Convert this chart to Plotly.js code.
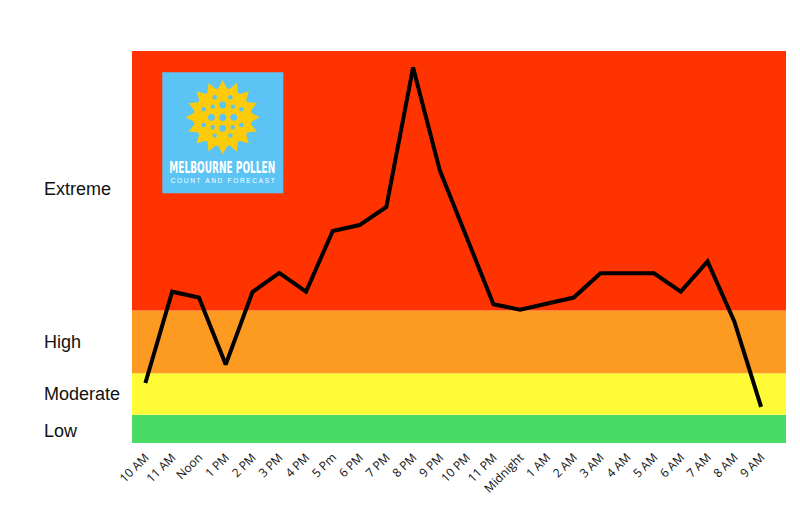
<!DOCTYPE html>
<html>
<head>
<meta charset="utf-8">
<script src="https://cdn.plot.ly/plotly-3.0.1.min.js"></script>
<style>html,body{margin:0;padding:0;background:#fff;}#chart{width:800px;height:505px;}</style>
</head>
<body>
<div id="chart"></div>
<script>
// ---- data ----
const hours = ["10 AM","11 AM","Noon","1 PM","2 PM","3 PM","4 PM","5 Pm","6 PM","7 PM","8 PM","9 PM",
               "10 PM","11 PM","Midnight","1 AM","2 AM","3 AM","4 AM","5 AM","6 AM","7 AM","8 AM","9 AM"];
const pollenIndex = [15.3,38.6,37.1,20.0,38.5,43.4,38.6,54.1,55.6,60.2,95.8,69.5,
                     52.5,35.4,34.0,35.5,37.1,43.3,43.3,43.3,38.6,46.3,31.0,9.2];
const levelNames = ["Low","Moderate","High","Extreme"];
const levelBounds = [0, 7.2, 17.8, 33.8, 100];
const levelColors = ["#4ADB67","#FFFC37","#FD9A22","#FF3300"];

// ---- layout geometry ----
const W = 800, H = 505, ML = 132, MR = 14, MT = 51, MB = 62;
const PW = W - ML - MR, PH = H - MT - MB;
const px2x = p => (p - ML) / PW;
const px2y = p => (H - MB - p) / PH;

// ---- bands ----
const shapes = [];
const annotations = [];
for (let i = 0; i < levelNames.length; i++) {
  shapes.push({type:"rect", xref:"paper", yref:"y", x0:0, x1:1, y0:levelBounds[i], y1:levelBounds[i+1],
               fillcolor:levelColors[i], line:{width:0}, layer:"below"});
  annotations.push({xref:"paper", yref:"y", x:px2x(42), xanchor:"left", yanchor:"middle",
                    y:(levelBounds[i]+levelBounds[i+1])/2,
                    yshift: levelNames[i]==="Extreme" ? -8 : (levelNames[i]==="Low" ? -2 : 0),
                    text:levelNames[i], showarrow:false,
                    font:{family:"Liberation Sans, Arial, sans-serif", size:18, color:"#111"}});
}

// ---- logo (decoration) ----
const LOGO_BLUE = "#5BC4F5", SUN = "#FCCB0A";
shapes.push({type:"rect", xref:"paper", yref:"paper", x0:px2x(162.3), x1:px2x(283.3), y0:px2y(193.3), y1:px2y(72.3),
             fillcolor:LOGO_BLUE, line:{width:0}, layer:"above"});
(function(){
  const cx = 222.7, cy = 117.3, n = 16;
  let d = "";
  for (let k = 0; k < 2*n; k++) {
    const a = -Math.PI/2 + k*Math.PI/n;
    const r = (k%2===0) ? 37 : 27.5;
    d += (k===0 ? "M" : "L") + px2x(cx + r*Math.cos(a)).toFixed(5) + "," + px2y(cy + r*Math.sin(a)).toFixed(5);
  }
  d += "Z";
  shapes.push({type:"path", xref:"paper", yref:"paper", path:d, fillcolor:SUN, line:{width:0}, layer:"above"});
  const circ = (x, y, r, c) => shapes.push({type:"circle", xref:"paper", yref:"paper",
      x0:px2x(cx+x-r), x1:px2x(cx+x+r), y0:px2y(cy+y+r), y1:px2y(cy+y-r), fillcolor:c, line:{width:0}, layer:"above"});
  circ(0, 0, 29, SUN);
  const dots = [
    [-8,-20,2.2],[7.7,-20,2.2],
    [-19,-8,2.2],[-10,-10.7,2.2],[0,-12.3,3.4],[10.3,-10.7,2.2],[18.7,-8,2.2],
    [-11.3,0,3.4],[0,0,3.6],[11,0,3.4],
    [-19,7.7,2.2],[-10,10,2.2],[0,11,3.4],[10,10,2.2],[18.7,7.7,2.2],
    [-8,18.3,2.2],[7.7,18.3,2.2]
  ];
  dots.forEach(p => circ(p[0], p[1], p[2], LOGO_BLUE));
})();
annotations.push({xref:"paper", yref:"paper", x:px2x(222), y:px2y(167.5), xanchor:"center", yanchor:"middle",
                  text:"MELBOURNE POLLEN", showarrow:false, name:"logo1",
                  font:{family:"DejaVu Sans Condensed, Liberation Sans, sans-serif", size:15, weight:"bold", color:"#fff"}});
annotations.push({xref:"paper", yref:"paper", x:px2x(222), y:px2y(180.3), xanchor:"center", yanchor:"middle",
                  text:"COUNT AND FORECAST", showarrow:false, name:"logo2",
                  font:{family:"Liberation Sans, Arial, sans-serif", size:6.5, color:"#fff"}});

const trace = {
  x: hours, y: pollenIndex, type:"scatter", mode:"lines",
  line:{color:"#000", width:4}, hoverinfo:"x+y"
};

const layout = {
  width:W, height:H,
  margin:{l:ML, r:MR, t:MT, b:MB},
  paper_bgcolor:"#fff", plot_bgcolor:"#fff",
  showlegend:false,
  xaxis:{type:"category", range:[-0.5, 23.93], showgrid:false, zeroline:false, showline:false,
         ticks:"", tickangle:-45, ticklabelstandoff:4,
         tickfont:{family:"Open Sans, sans-serif", size:12, color:"#111"}},
  yaxis:{range:[0,100], showgrid:false, zeroline:false, showline:false, showticklabels:false, ticks:""},
  shapes: shapes,
  annotations: annotations
};

Plotly.newPlot("chart", [trace], layout, {displayModeBar:false, staticPlot:true}).then(function(){
  document.querySelectorAll("#chart .annotation-text").forEach(function(t){
    const s = t.textContent;
    if (s === "MELBOURNE POLLEN") {
      t.setAttribute("textLength", "106");
      t.setAttribute("lengthAdjust", "spacingAndGlyphs");
    } else if (s === "COUNT AND FORECAST") {
      t.setAttribute("textLength", "104");
      t.setAttribute("lengthAdjust", "spacing");
    }
  });
});
</script>
</body>
</html>
